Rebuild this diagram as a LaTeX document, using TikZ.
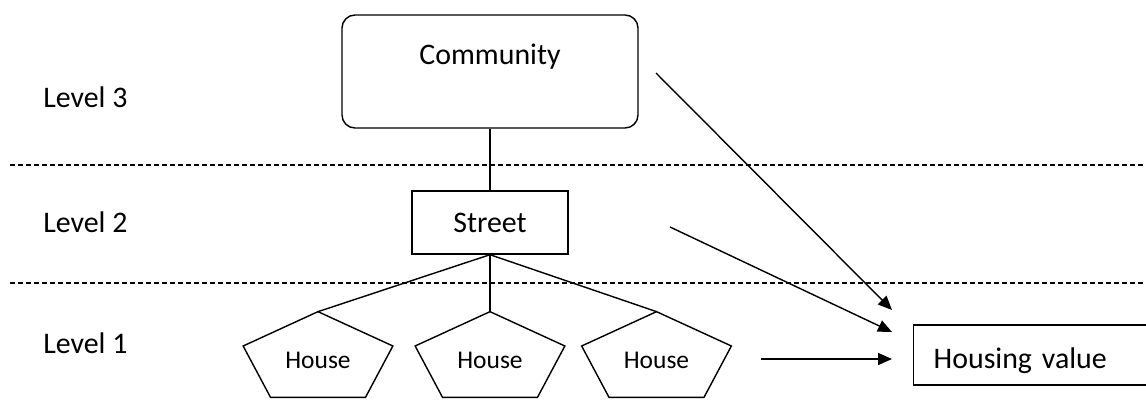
\documentclass[tikz,border=0pt]{standalone}
\usepackage{fontspec}
\setmainfont{Carlito}
\usetikzlibrary{arrows.meta,positioning}
\tikzstyle{arrow} = [line width=0.8pt,-{Triangle[length=0.28cm,width=0.24cm]}]
\tikzstyle{levelbox} = [rectangle, draw, line width=0.8pt, inner sep=0pt, font=\fontsize{17}{20}\selectfont]
\tikzstyle{house} = [inner sep=0pt, minimum width=2.98cm, minimum height=1.7cm, text height=0.55cm, text depth=0pt, font=\fontsize{14.5}{17}\selectfont]
\tikzstyle{levellabel} = [anchor=base west, inner sep=0pt, font=\fontsize{17}{20}\selectfont]
\tikzstyle{divider} = [line width=0.6pt, dash pattern=on 0.1cm off 0.06cm]
\tikzstyle{link} = [line width=0.8pt]

\begin{document}
\begin{tikzpicture}
\useasboundingbox (0,0) rectangle (22.92,8.02);

% Level labels and dividers
\node[levellabel] (level3) at (0.86,5.86) {Level 3};
\node[levellabel] (level2) at (0.86,3.37) {Level 2};
\node[levellabel] (level1) at (0.86,0.96) {Level 1};
\draw[divider] (0.2,4.72) -- (22.92,4.72);
\draw[divider] (0.2,2.36) -- (22.92,2.36);

% Hierarchy
\node[levelbox, rounded corners=0.26cm, minimum width=5.92cm, minimum height=2.26cm, text height=0.5cm, text depth=0.76cm] (community) at (9.8,6.59) {Community};
\node[levelbox, minimum width=3.12cm, minimum height=1.26cm, text height=0.42cm, text depth=0pt] (street) at (9.8,3.57) {Street};
\node[house] (house1) at (6.36,0.93) {House};
\node[house] (house2) at (9.8,0.93) {House};
\node[house] (house3) at (13.13,0.93) {House};
\foreach \h in {house1,house2,house3}
  \draw[link, line join=miter] (\h.north) -- ([yshift=1.7mm]\h.east) -- ([xshift=9.5mm]\h.south)
    -- ([xshift=-9.5mm]\h.south) -- ([yshift=1.7mm]\h.west) -- cycle;

\draw[link] (community) -- (street);
\foreach \h in {house1,house2,house3}
  \draw[link] (street.south) -- (\h.north);

% Outcome
\node[levelbox, anchor=west, minimum height=1.2cm, text width=4.4cm, align=left, inner xsep=0.4cm, text height=0.52cm, text depth=0pt] (housing) at (18.26,0.92) {Housing value};

\coordinate (fromcommunity) at (13.12,6.56);
\coordinate (tocommunity) at (17.84,1.82);
\coordinate (fromstreet) at (13.4,3.48);
\coordinate (tostreet) at (17.84,1.38);
\coordinate (fromhouse) at (15.22,0.84);
\coordinate (tohouse) at (17.84,0.84);
\draw[arrow] (fromcommunity) -- (tocommunity);
\draw[arrow] (fromstreet) -- (tostreet);
\draw[arrow] (fromhouse) -- (tohouse);
\end{tikzpicture}
\end{document}
